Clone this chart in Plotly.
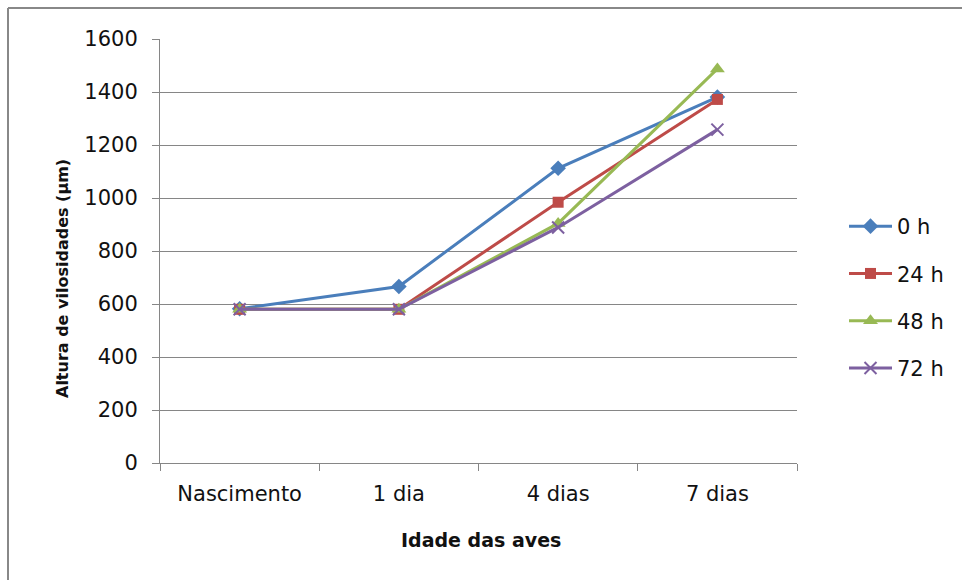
import plotly.graph_objects as go

# Data: villus height by bird age for each holding time
categories = ["Nascimento", "1 dia", "4 dias", "7 dias"]
series_names = ["0 h", "24 h", "48 h", "72 h"]
values_0h = [582, 666, 1112, 1381]
values_24h = [580, 580, 984, 1372]
values_48h = [580, 580, 904, 1487]
values_72h = [580, 580, 889, 1258]

colors = ["#4A7EBB", "#BE4B48", "#98B954", "#7D60A0"]
symbols = ["diamond", "square", "triangle-up", "x-thin"]
sizes = [12, 11, 13, 12]

fig = go.Figure()
for i, (name, vals) in enumerate(zip(series_names, [values_0h, values_24h, values_48h, values_72h])):
    marker = dict(symbol=symbols[i], size=sizes[i], color=colors[i])
    if symbols[i] == "x-thin":
        marker["line"] = dict(color=colors[i], width=2)
    fig.add_trace(go.Scatter(
        x=categories, y=vals, name=name, mode="lines+markers",
        line=dict(color=colors[i], width=3), marker=marker,
        legendgroup=name,
    ))

W, H = 962, 580
ml, mr, mt, mb = 160, 165, 39, 117
pw, ph = W - ml - mr, H - mt - mb
font = "'DejaVu Sans', sans-serif"


def px_x(x):
    return (x - ml) / pw


def px_y(y):
    return (H - mb - y) / ph


fig.update_layout(
    width=W, height=H,
    margin=dict(l=ml, r=mr, t=mt, b=mb),
    paper_bgcolor="white", plot_bgcolor="white",
    font=dict(family=font, size=21, color="#111"),
    showlegend=True,
    legend=dict(
        x=px_x(844), y=px_y(206),
        xanchor="left", yanchor="top",
        font=dict(size=21), tracegroupgap=17,
        itemwidth=43, bgcolor="rgba(0,0,0,0)",
    ),
    xaxis=dict(
        type="category", showgrid=False, showline=True, linecolor="#868686", linewidth=1,
        ticks="outside", ticklen=7, tickcolor="#868686", tickson="boundaries",
        tickfont=dict(size=21), range=[-0.5, 3.5], ticklabelstandoff=12,
    ),
    yaxis=dict(
        range=[0, 1600], tickvals=list(range(0, 1601, 200)),
        showgrid=True, gridcolor="#868686", gridwidth=1,
        showline=True, linecolor="#868686", linewidth=1,
        ticks="outside", ticklen=7, tickcolor="#868686",
        tickfont=dict(size=21), zeroline=False, ticklabelstandoff=10,
    ),
)

# Axis titles
fig.add_annotation(text="<b>Idade das aves</b>", xref="paper", yref="paper",
                   x=px_x(481), y=px_y(540), showarrow=False,
                   xanchor="center", yanchor="middle", font=dict(size=19, family=font))
fig.add_annotation(text="<b>Altura de vilosidades (µm)</b>", xref="paper", yref="paper",
                   x=px_x(62), y=px_y(279), showarrow=False, textangle=-90,
                   xanchor="center", yanchor="middle", font=dict(size=16, family=font))

# Outer chart border (top and left edges visible)
fig.add_shape(type="line", xref="paper", yref="paper",
              x0=px_x(8), x1=px_x(W + 5), y0=px_y(8), y1=px_y(8),
              line=dict(color="#888888", width=2))
fig.add_shape(type="line", xref="paper", yref="paper",
              x0=px_x(8), x1=px_x(8), y0=px_y(8), y1=px_y(H + 5),
              line=dict(color="#888888", width=2))

fig.write_html("out.html")
